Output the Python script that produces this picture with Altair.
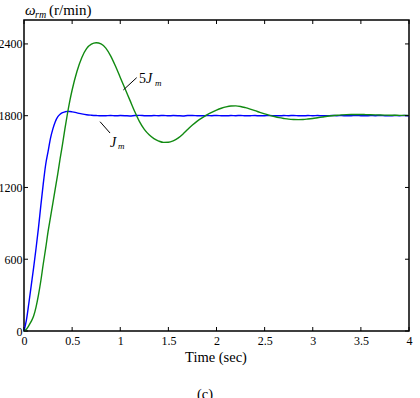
import altair as alt
import pandas as pd

# ---------------- data ----------------
time_s = [0, 0.025, 0.05, 0.075, 0.1, 0.125, 0.15, 0.175, 0.2, 0.225,
          0.25, 0.275, 0.3, 0.325, 0.35, 0.375, 0.4, 0.425, 0.45, 0.475, 0.5,
          0.55, 0.6, 0.65, 0.7, 0.75, 0.8, 0.85, 0.9, 0.95, 1.0,
          1.05, 1.1, 1.15, 1.2, 1.25, 1.3, 1.35, 1.4, 1.45, 1.5,
          1.55, 1.6, 1.65, 1.7, 1.75, 1.8, 1.85, 1.9, 1.95, 2.0,
          2.05, 2.1, 2.15, 2.2, 2.25, 2.3, 2.35, 2.4, 2.45, 2.5,
          2.55, 2.6, 2.65, 2.7, 2.75, 2.8, 2.85, 2.9, 2.95, 3.0,
          3.05, 3.1, 3.15, 3.2, 3.25, 3.3, 3.35, 3.4, 3.45, 3.5,
          3.55, 3.6, 3.65, 3.7, 3.75, 3.8, 3.85, 3.9, 3.95, 4.0]

speed_jm = [0, 90, 230, 380, 530, 690, 860, 1050, 1230, 1390,
            1500, 1610, 1690, 1750, 1790, 1812, 1825, 1832, 1836, 1835, 1832,
            1824, 1815, 1808, 1804, 1801, 1799, 1800, 1802, 1799, 1801,
            1800, 1798, 1801, 1803, 1800, 1799, 1801, 1800, 1802, 1799,
            1801, 1800, 1798, 1801, 1802, 1800, 1799, 1801, 1800, 1802,
            1800, 1799, 1801, 1800, 1802, 1799, 1800, 1801, 1799, 1800,
            1802, 1800, 1799, 1801, 1800, 1802, 1800, 1799, 1801, 1800,
            1801, 1799, 1800, 1802, 1800, 1801, 1799, 1800, 1802, 1800,
            1799, 1801, 1800, 1802, 1800, 1799, 1801, 1800, 1801, 1800]

speed_5jm = [0, 15, 45, 80, 125, 200, 300, 420, 560, 690,
             830, 950, 1070, 1190, 1310, 1440, 1560, 1690, 1810, 1920, 2015,
             2170, 2285, 2360, 2398, 2410, 2400, 2365, 2300, 2215, 2120,
             2025, 1930, 1835, 1750, 1685, 1640, 1608, 1588, 1577, 1578,
             1590, 1612, 1645, 1685, 1722, 1755, 1782, 1806, 1827, 1846,
             1862, 1874, 1881, 1882, 1877, 1867, 1855, 1842, 1828, 1815,
             1803, 1793, 1784, 1777, 1771, 1768, 1767, 1768, 1772, 1777,
             1783, 1789, 1795, 1800, 1804, 1807, 1809, 1810, 1810, 1810,
             1809, 1808, 1807, 1806, 1805, 1804, 1804, 1803, 1803, 1803]

series_names = ["Jm", "5Jm"]
series_colors = ["#0000ff", "#118a11"]

x_ticks = [0, 0.5, 1, 1.5, 2, 2.5, 3, 3.5, 4]
y_ticks = [0, 600, 1200, 1800, 2400]

# ---------------- layout / style ----------------
W, H = 385, 311
FONT = "Liberation Serif"
xs = alt.Scale(domain=[0, 4], nice=False, zero=False)
ys = alt.Scale(domain=[0, 2600], nice=False, zero=False)

ax_x = alt.Axis(values=x_ticks, format="~g", ticks=False, domain=False,
                grid=False, title=None, labelFont=FONT, labelFontSize=12,
                labelColor="black", labelPadding=4, labelFlush=False)
ax_y = alt.Axis(values=y_ticks, format="d", ticks=False, domain=False,
                grid=False, title=None, labelFont=FONT, labelFontSize=12,
                labelColor="black", labelPadding=2, labelFlush=False)


def X(field):
    return alt.X(field, scale=xs, axis=ax_x, title=None)


def Y(field):
    return alt.Y(field, scale=ys, axis=ax_y, title=None)


df = pd.concat([
    pd.DataFrame({"t": time_s, "w": speed_jm, "series": "Jm"}),
    pd.DataFrame({"t": time_s, "w": speed_5jm, "series": "5Jm"}),
])

lines = alt.Chart(df).mark_line(strokeWidth=1.4, interpolate="monotone").encode(
    x=X("t:Q"),
    y=Y("w:Q"),
    color=alt.Color("series:N", scale=alt.Scale(domain=series_names, range=series_colors),
                    legend=None),
    detail="series:N",
)

xt = pd.DataFrame({"t": x_ticks})
yt = pd.DataFrame({"w": y_ticks})
tick_style = dict(color="black", strokeWidth=1)
ticks_bottom = alt.Chart(xt).mark_rule(**tick_style).encode(
    x=X("t:Q"), y=alt.value(H), y2=alt.value(H - 4))
ticks_top = alt.Chart(xt).mark_rule(**tick_style).encode(
    x=X("t:Q"), y=alt.value(0), y2=alt.value(4))
ticks_left = alt.Chart(yt).mark_rule(**tick_style).encode(
    y=Y("w:Q"), x=alt.value(0), x2=alt.value(4))
ticks_right = alt.Chart(yt).mark_rule(**tick_style).encode(
    y=Y("w:Q"), x=alt.value(W), x2=alt.value(W - 4))

# annotation leader lines (data coordinates)
leaders = pd.DataFrame({
    "t": [1.032, 0.790], "w": [2015, 1750],
    "t2": [1.171, 0.894], "w2": [2118, 1655],
})
leader_lines = alt.Chart(leaders).mark_rule(color="black", strokeWidth=1).encode(
    x=X("t:Q"), y=Y("w:Q"), x2="t2:Q", y2="w2:Q")


def data_text(text, t, w, size, style="normal"):
    return alt.Chart(pd.DataFrame({"t": [t], "w": [w], "s": [text]})).mark_text(
        font=FONT, fontSize=size, fontStyle=style, align="left",
        baseline="alphabetic", color="black").encode(
        x=X("t:Q"), y=Y("w:Q"), text="s:N")


def px_text(text, x, y, size, style="normal", align="left"):
    return alt.Chart(pd.DataFrame({"s": [text]})).mark_text(
        font=FONT, fontSize=size, fontStyle=style, align=align,
        baseline="alphabetic", color="black").encode(
        x=alt.value(x), y=alt.value(y), text="s:N")


labels = [
    data_text("5", 1.195, 2073, 14),
    data_text("J", 1.268, 2073, 14, "italic"),
    data_text("m", 1.361, 2046, 9, "italic"),
    data_text("J", 0.894, 1538, 14, "italic"),
    data_text("m", 0.977, 1520, 9, "italic"),
    px_text("\u03c9", 1, -5, 15, "italic"),
    px_text("rm", 11, -2, 10, "italic"),
    px_text("(r/min)", 25, -5, 15),
    px_text("Time (sec)", 192, 342, 14.5, align="center"),
    px_text("(c)", 181, 379, 14.5, align="center"),
]

chart = alt.layer(lines, ticks_bottom, ticks_top, ticks_left, ticks_right,
                  leader_lines, *labels).properties(
    width=W, height=H,
    autosize=alt.AutoSizeParams(type="none"),
    padding={"left": 24, "top": 20, "right": 11, "bottom": 67},
    background="white",
).configure_view(stroke="black", strokeWidth=1.5)

chart.save("out.html", embed_options={"renderer": "svg", "actions": False})
